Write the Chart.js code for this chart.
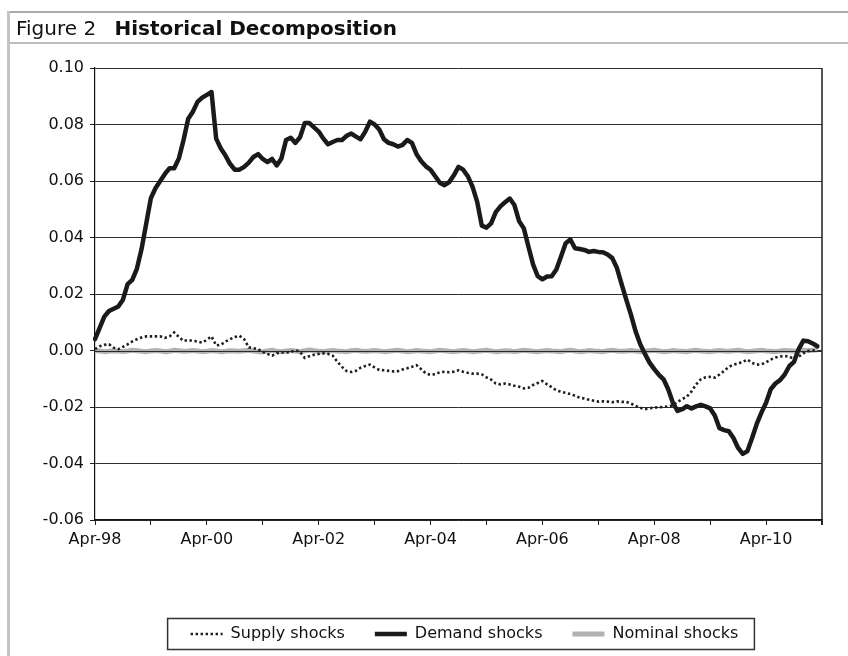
<!DOCTYPE html>
<html>
<head>
<meta charset="utf-8">
<script src="https://cdn.jsdelivr.net/npm/chart.js@4.4.1/dist/chart.umd.min.js"></script>
<style>
  html, body { margin:0; padding:0; background:#fff; width:848px; height:656px; overflow:hidden; }
  #wrap { position:relative; width:848px; height:656px; overflow:hidden; }
  .ln { position:absolute; }
  #title { position:absolute; left:16px; top:18px; line-height:20px; font-family:"DejaVu Sans"; font-size:20px; color:#111; white-space:nowrap; }
  #title b { margin-left:12px; }
  canvas { position:absolute; left:0; top:0; }
</style>
</head>
<body>
<div id="wrap">
  <canvas id="c" width="848" height="652"></canvas>
  <div class="ln" style="left:7px;top:11px;width:841px;height:2px;background:#a9a9a9"></div>
  <div class="ln" style="left:7px;top:42px;width:841px;height:2px;background:#bdbdbd"></div>
  <div class="ln" style="left:7px;top:11px;width:3px;height:645px;background:#c4c4c4"></div>
  <div id="title">Figure 2 <b>Historical Decomposition</b></div>
</div>
<script>
// ---- data ----
const MONTH_NAMES = ['Jan','Feb','Mar','Apr','May','Jun','Jul','Aug','Sep','Oct','Nov','Dec'];
const START_YEAR = 1998, START_MONTH = 3, N_CATEGORIES = 157; // Apr-98 .. Apr-11
const categories = [];
for (let k = 0; k < N_CATEGORIES; k++) {
  const m = START_MONTH + k;
  categories.push(MONTH_NAMES[m % 12] + '-' + String((START_YEAR + Math.floor(m / 12)) % 100).padStart(2, '0'));
}
const tickLabels = ['Apr-98','Apr-00','Apr-02','Apr-04','Apr-06','Apr-08','Apr-10'];

const supplyShocks = [
  0.0005, 0.0015, 0.002, 0.0022, 0.001, 0.0005, 0.0013, 0.0022, 0.0032, 0.004, 0.0046, 0.005,
  0.005, 0.005, 0.005, 0.0045, 0.005, 0.0064, 0.0048, 0.0034, 0.0037, 0.0034, 0.0032, 0.0028,
  0.0038, 0.005, 0.0018, 0.002, 0.0032, 0.004, 0.0048, 0.0052, 0.004, 0.0011, 0.0008, 0.0005,
  -0.0005, -0.0012, -0.0018, -0.001, -0.0007, -0.0007, -0.0005, 0.0001, -0.0005, -0.0026, -0.002, -0.0015,
  -0.0012, -0.001, -0.0012, -0.0018, -0.004, -0.0058, -0.0073, -0.0076, -0.0072, -0.0061, -0.0055, -0.005,
  -0.006, -0.0069, -0.007, -0.0072, -0.0074, -0.0073, -0.0067, -0.0063, -0.0058, -0.0052, -0.0066, -0.0081,
  -0.0086, -0.0084, -0.0077, -0.0075, -0.0077, -0.0075, -0.007, -0.0075, -0.0079, -0.0082, -0.0082, -0.0085,
  -0.0095, -0.0103, -0.0117, -0.012, -0.0117, -0.012, -0.0125, -0.0128, -0.0134, -0.0132, -0.0122, -0.0115,
  -0.0108, -0.012, -0.013, -0.0141, -0.0146, -0.015, -0.0154, -0.016, -0.0167, -0.017, -0.0174, -0.0178,
  -0.0181, -0.018, -0.0181, -0.0183, -0.018, -0.0182, -0.0182, -0.0188, -0.0196, -0.0203, -0.0208, -0.0205,
  -0.0202, -0.0201, -0.02, -0.0198, -0.0194, -0.0182, -0.0172, -0.0163, -0.0145, -0.012, -0.0102, -0.0095,
  -0.0093, -0.0096, -0.0085, -0.0072, -0.0058, -0.005, -0.0046, -0.004, -0.0032, -0.0044, -0.005, -0.0049,
  -0.0042, -0.0032, -0.0025, -0.0021, -0.0019, -0.0022, -0.003, -0.0022, -0.001, -0.0002, 0.0, 0.0002
];

const demandShocks = [
  0.004, 0.008, 0.012, 0.014, 0.0148, 0.0156, 0.018, 0.0235, 0.025, 0.029, 0.036, 0.045,
  0.054, 0.0575, 0.060, 0.0625, 0.0645, 0.0645, 0.068, 0.0745, 0.082, 0.0845, 0.088, 0.0895,
  0.0905, 0.0915, 0.075, 0.0715, 0.069, 0.066, 0.064, 0.064, 0.065, 0.0665, 0.0685, 0.0695,
  0.0678, 0.0667, 0.0678, 0.0655, 0.068, 0.0745, 0.0753, 0.0735, 0.0755, 0.0805, 0.0805, 0.079,
  0.0775, 0.075, 0.073, 0.0738, 0.0745, 0.0745, 0.076, 0.0768, 0.0757, 0.0748, 0.0775, 0.081,
  0.080, 0.0782, 0.0748, 0.0735, 0.073, 0.0722, 0.0728, 0.0745, 0.0735, 0.0695, 0.067, 0.0652,
  0.064, 0.0617, 0.0594, 0.0585, 0.0596, 0.062, 0.065, 0.064, 0.0617, 0.058, 0.0527, 0.0442,
  0.0435, 0.045, 0.049, 0.051, 0.0525, 0.0538, 0.0515, 0.0458, 0.0433, 0.0368, 0.0305, 0.0263,
  0.0252, 0.0262, 0.0263, 0.0287, 0.0333, 0.038, 0.0393, 0.0362, 0.0359, 0.0356, 0.0349, 0.0352,
  0.0349, 0.0348, 0.034, 0.0327, 0.0292, 0.0235, 0.018, 0.0127, 0.0068, 0.0022, -0.0012, -0.0043,
  -0.0066, -0.0086, -0.0102, -0.0137, -0.0185, -0.0214, -0.0208, -0.0197, -0.0205, -0.0198, -0.0192, -0.0198,
  -0.0205, -0.023, -0.0275, -0.0282, -0.0286, -0.031, -0.0345, -0.0366, -0.0356, -0.031, -0.026, -0.022,
  -0.0185, -0.0137, -0.0117, -0.0105, -0.0085, -0.0055, -0.004, 0.0005, 0.0035, 0.0033, 0.0025, 0.0015
];

const nominalShocks = [
  0, -0.0002, -0.0004, -0.0003, -0.0001, -0.0002, -0.0004, -0.0002, 0.0001, -0.0001, -0.0003, -0.0004,
  -0.0002, 0, -0.0002, -0.0004, -0.0003, 0.0001, -0.0001, -0.0003, -0.0002, 0, -0.0002, -0.0004,
  -0.0003, 0, -0.0002, -0.0004, -0.0003, -0.0001, -0.0002, -0.0003, -0.0001, 0.0001, -0.0002, -0.0004,
  -0.0005, -0.0002, 0.0001, -0.0003, -0.0004, -0.0002, 0, -0.0002, -0.0004, -0.0001, 0.0002, -0.0001,
  -0.0003, -0.0004, -0.0002, 0, -0.0002, -0.0003, -0.0004, -0.0001, 0.0001, -0.0002, -0.0003, -0.0002,
  0, -0.0002, -0.0004, -0.0003, -0.0001, 0.0001, -0.0002, -0.0004, -0.0003, 0, -0.0002, -0.0003,
  -0.0004, -0.0002, 0.0001, -0.0001, -0.0003, -0.0004, -0.0002, 0, -0.0002, -0.0004, -0.0003, -0.0001,
  0.0001, -0.0002, -0.0004, -0.0003, -0.0001, -0.0002, -0.0004, -0.0002, 0.0001, -0.0001, -0.0003, -0.0004,
  -0.0002, 0, -0.0002, -0.0003, -0.0004, -0.0001, 0.0001, -0.0002, -0.0004, -0.0003, 0, -0.0002,
  -0.0003, -0.0004, -0.0001, 0.0001, -0.0002, -0.0003, -0.0002, 0, -0.0002, -0.0004, -0.0003, -0.0001,
  0.0001, -0.0002, -0.0004, -0.0003, 0, -0.0002, -0.0003, -0.0004, -0.0001, 0.0001, -0.0002, -0.0003,
  -0.0004, -0.0002, 0, -0.0002, -0.0003, -0.0001, 0.0001, -0.0002, -0.0004, -0.0003, -0.0001, 0.0001,
  -0.0002, -0.0003, -0.0004, -0.0002, 0, -0.0001, -0.0003, -0.0002, 0.0001, 0, 0.0001, 0.0002
];

// ---- plugins ----
const zeroLinePlugin = {
  id: 'zeroLine',
  afterDatasetDraw(chart, args) {
    if (args.index !== 2) return;
    const {ctx, chartArea} = chart;
    const y = Math.round(chart.scales.y.getPixelForValue(0)) + 0.5;
    ctx.save();
    ctx.strokeStyle = '#2a2a2a';
    ctx.lineWidth = 1.2;
    ctx.beginPath();
    ctx.moveTo(chartArea.left, y);
    ctx.lineTo(chartArea.right, y);
    ctx.stroke();
    ctx.restore();
  }
};
const legendFramePlugin = {
  id: 'legendFrame',
  afterLayout(chart) {
    // nudge the legend block slightly right, as in the original figure
    if (chart.legend) { chart.legend.left += 6; chart.legend.right += 6; }
  },
  afterDraw(chart) {
    const lg = chart.legend;
    if (!lg || !lg.legendHitBoxes || !lg.legendHitBoxes.length) return;
    const hb = lg.legendHitBoxes;
    const first = hb[0], last = hb[hb.length - 1];
    const cy = first.top + first.height / 2;
    const ctx = chart.ctx;
    ctx.save();
    ctx.strokeStyle = '#333';
    ctx.lineWidth = 1.5;
    ctx.strokeRect(first.left - 23, cy - 15.5, (last.left + last.width + 16) - (first.left - 23), 31);
    ctx.restore();
  }
};

const FONT = { family: 'DejaVu Sans', size: 16 };

new Chart(document.getElementById('c'), {
  type: 'line',
  data: {
    labels: categories,
    datasets: [
      { label: 'Supply shocks', data: supplyShocks, borderColor: '#1e1e1e', borderWidth: 2.6,
        borderDash: [2.4, 2.6], pointRadius: 0, pointStyle: 'line', tension: 0, fill: false },
      { label: 'Demand shocks', data: demandShocks, borderColor: '#1a1a1a', borderWidth: 4.5,
        pointRadius: 0, pointStyle: 'line', tension: 0, fill: false, borderJoinStyle: 'round', borderCapStyle: 'round' },
      { label: 'Nominal shocks', data: nominalShocks, borderColor: '#b2b2b2', borderWidth: 5,
        pointRadius: 0, pointStyle: 'line', tension: 0, fill: false, borderJoinStyle: 'round' }
    ]
  },
  options: {
    responsive: false,
    animation: false,
    events: [],
    layout: { padding: { top: 68, left: 10, right: 26, bottom: 0 } },
    plugins: {
      title: { display: false },
      tooltip: { enabled: false },
      legend: {
        position: 'bottom',
        fullSize: false,
        labels: {
          usePointStyle: true,
          pointStyleWidth: 32,
          padding: 30,
          font: FONT,
          color: '#111',
          generateLabels(chart) {
            const items = Chart.defaults.plugins.legend.labels.generateLabels(chart);
            items.forEach(it => {
              const ds = chart.data.datasets[it.datasetIndex];
              it.lineWidth = ds.borderWidth;
              it.lineDash = ds.borderDash || [];
              it.strokeStyle = ds.borderColor;
              it.fillStyle = ds.borderColor;
              it.lineCap = 'butt';
              it.pointStyle = 'line';
            });
            return items;
          }
        }
      }
    },
    scales: {
      x: {
        type: 'category',
        offset: false,
        afterBuildTicks(axis) { axis.ticks = axis.ticks.filter(t => t.value % 12 === 0); },
        afterFit(axis) { axis.height = 76; },
        border: { display: true, color: '#111', width: 1.2 },
        grid: {
          display: true,
          drawOnChartArea: true,
          offset: false,
          color: (c) => (c.tick && c.tick.value === N_CATEGORIES - 1) ? '#555' : 'rgba(0,0,0,0)',
          lineWidth: (c) => (c.tick && c.tick.value === N_CATEGORIES - 1) ? 2 : 1,
          tickColor: '#222',
          tickLength: 5
        },
        ticks: {
          autoSkip: false,
          maxRotation: 0,
          minRotation: 0,
          padding: 5,
          font: FONT,
          color: '#111',
          callback(value) {
            const lab = categories[value];
            return tickLabels.includes(lab) ? lab : '';
          }
        }
      },
      y: {
        min: -0.06,
        max: 0.10,
        afterFit(axis) { axis.width = 85; },
        border: { display: true, color: '#111', width: 1.2 },
        grid: { color: '#2e2e2e', lineWidth: 1, tickLength: 5, tickColor: '#222' },
        ticks: {
          stepSize: 0.02,
          padding: 6,
          font: FONT,
          color: '#111',
          callback(v) { return Math.abs(v) < 1e-9 ? '0.00' : Number(v).toFixed(2); }
        }
      }
    }
  },
  plugins: [zeroLinePlugin, legendFramePlugin]
});
</script>
</body>
</html>
